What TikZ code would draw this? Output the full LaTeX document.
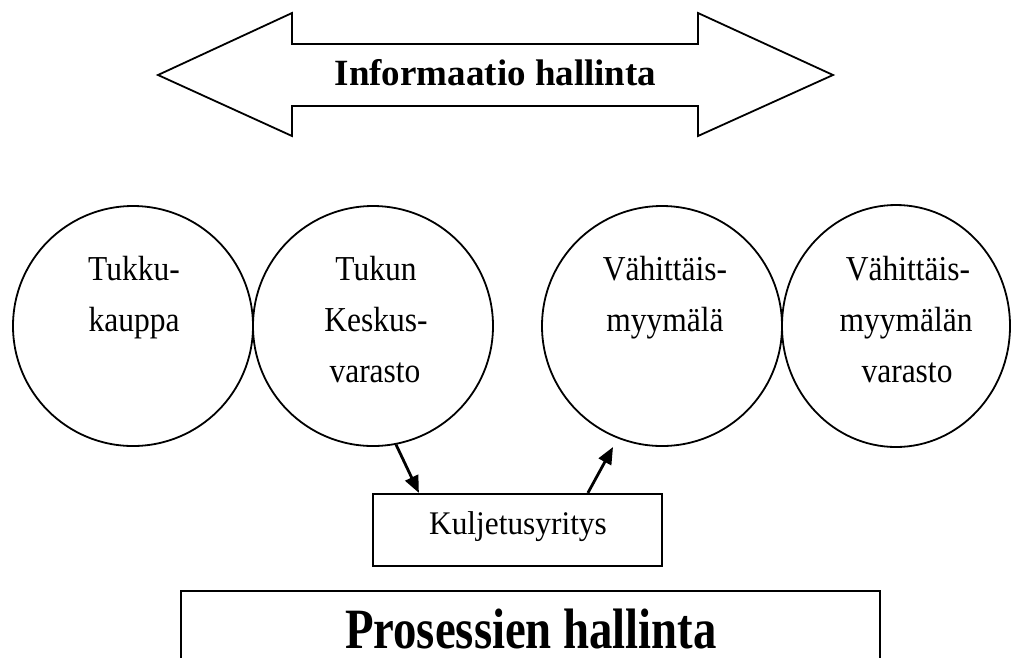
\documentclass[tikz,border=0pt]{standalone}
\usepackage{fontspec}
\setmainfont{Liberation Serif}
\newfontfamily\circfont[FakeStretch=0.9]{Liberation Serif}
\newfontfamily\kulfont[FakeStretch=0.95]{Liberation Serif}
\newfontfamily\procfont[FakeStretch=0.82]{Liberation Serif}
\usetikzlibrary{shapes.geometric,arrows.meta,calc}
\tikzset{
  circ/.style={draw, circle, line width=1.8pt, minimum size=240pt, inner sep=0pt},
  lbl/.style={anchor=base, inner sep=0pt, font=\circfont\fontsize{35}{40}\selectfont},
  conn/.style={line width=2.8pt, -{Triangle[length=17pt,width=14pt]}},
  boxst/.style={draw, line width=2.2pt, inner sep=0pt}
}
\begin{document}
\begin{tikzpicture}[x=1pt,y=-1pt]
\useasboundingbox (0,0) rectangle (1011,657);
\clip (0,0) rectangle (1011,657);
\fill[white] (0,0) rectangle (1011,657);
% information arrow
\draw[line width=1.8pt, line join=miter]
  (158,75) -- (292,13) -- (292,44) -- (698,44) -- (698,13) -- (833,75)
  -- (698,136) -- (698,106) -- (292,106) -- (292,136) -- cycle;
\node[anchor=base, inner sep=0pt, font=\bfseries\fontsize{37}{42}\selectfont] (info) at (495.5,85) {Informaatio hallinta};
% circles
\node[circ] (c1) at (133,326) {};
\node[circ] (c2) at (373,326) {};
\node[circ] (c3) at (662,326) {};
\node[draw, ellipse, line width=1.8pt, minimum width=228pt, minimum height=242pt, inner sep=0pt] (c4) at (896,326) {};
\node[lbl] (c1a) at (134,280) {Tukku-};
\node[lbl] (c1b) at (134,331) {kauppa};
\node[lbl] (c2a) at (376,280) {Tukun};
\node[lbl] (c2b) at (376,331) {Keskus-};
\node[lbl] (c2c) at (375,382) {varasto};
\node[lbl] (c3a) at (665,280) {Vähittäis-};
\node[lbl] (c3b) at (665,331) {myymälä};
\node[lbl] (c4a) at (908,280) {Vähittäis-};
\node[lbl] (c4b) at (906,331) {myymälän};
\node[lbl] (c4c) at (907,382) {varasto};
% transport box
\node[boxst, minimum width=289pt, minimum height=72pt] (kul) at (517.5,530) {};
\node[anchor=base, inner sep=0pt, font=\kulfont\fontsize{33}{38}\selectfont] (kult) at (518,534) {Kuljetusyritys};
% connectors
\coordinate (e2) at (613,447);
\draw[conn] (c2.-79) -- ($(kul.north west)+(47,0)$);
\draw[conn] ($(kul.north west)+(216,0)$) -- (e2);
% process box
\node[boxst, minimum width=699pt, minimum height=140pt, anchor=north] (proc) at (530.5,590) {};
\node[anchor=base, inner sep=0pt, font=\procfont\bfseries\fontsize{57}{62}\selectfont] (proct) at (531,648) {Prosessien hallinta};
\end{tikzpicture}
\end{document}
